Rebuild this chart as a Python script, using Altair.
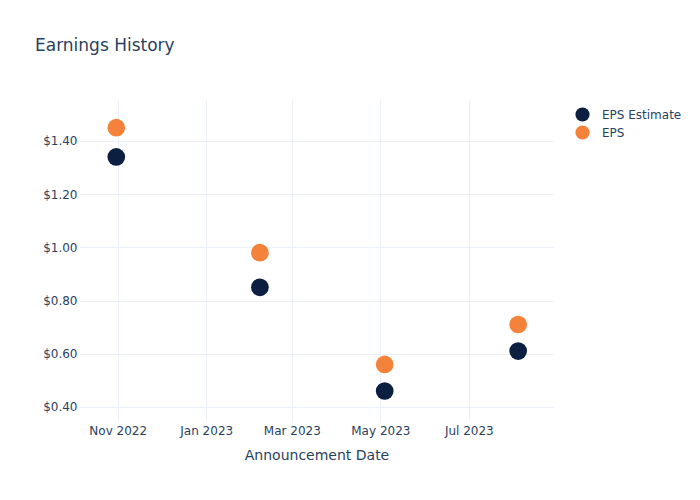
import altair as alt
import pandas as pd

dates = ["2022-10-31", "2023-02-07", "2023-05-04", "2023-08-04"]
eps_estimate = [1.34, 0.85, 0.46, 0.61]
eps_actual = [1.45, 0.98, 0.56, 0.71]
series_names = ["EPS Estimate", "EPS"]
series_colors = ["#0c1f40", "#f5823a"]
y_ticks = [0.4, 0.6, 0.8, 1.0, 1.2, 1.4]
x_ticks = [(2022, 11), (2023, 1), (2023, 3), (2023, 5), (2023, 7)]

rows = []
for d, e in zip(dates, eps_estimate):
    rows.append({"date": d, "value": e, "series": "EPS Estimate"})
for d, a in zip(dates, eps_actual):
    rows.append({"date": d, "value": a, "series": "EPS"})
df = pd.DataFrame(rows)

FONT = "DejaVu Sans"
TXT = "#2a3f5f"

chart = alt.Chart(df).mark_circle(size=314, opacity=1).encode(
    x=alt.X(
        "date:T",
        title="Announcement Date",
        scale=alt.Scale(
            type="utc",
            domain=[alt.DateTime(year=2022, month=10, date=6, utc=True),
                    alt.DateTime(year=2023, month=8, date=28, utc=True)],
            nice=False,
        ),
        axis=alt.Axis(
            values=[alt.DateTime(year=y, month=m, date=1, utc=True) for y, m in x_ticks],
            format="%b %Y",
            domain=False,
            ticks=False,
            labelPadding=5,
            titlePadding=12,
            gridColor="#ebf0f8",
            labelFontSize=12,
            titleFontSize=14,
            titleFontWeight="normal",
            labelColor=TXT,
            titleColor=TXT,
            labelFont=FONT,
            titleFont=FONT,
        ),
    ),
    y=alt.Y(
        "value:Q",
        title=None,
        scale=alt.Scale(domain=[0.351, 1.554], nice=False, zero=False),
        axis=alt.Axis(
            values=y_ticks,
            format="$.2f",
            domain=False,
            ticks=False,
            labelPadding=3,
            gridColor="#ebf0f8",
            labelFontSize=12,
            labelColor=TXT,
            labelFont=FONT,
        ),
    ),
    color=alt.Color(
        "series:N",
        scale=alt.Scale(domain=series_names, range=series_colors),
        legend=alt.Legend(
            title=None,
            orient="none",
            legendX=495,
            legendY=7,
            symbolType="circle",
            symbolSize=201,
            symbolStrokeWidth=0,
            symbolOpacity=1,
            labelFontSize=12,
            labelColor=TXT,
            labelFont=FONT,
            labelOffset=12,
            rowPadding=3,
            padding=0,
        ),
    ),
    order=alt.Order("series:N", sort="descending"),
).properties(
    width=473,
    height=320,
    title=alt.TitleParams(
        "Earnings History",
        anchor="start",
        frame="group",
        fontSize=17,
        fontWeight="normal",
        font=FONT,
        color=TXT,
        dx=-45,
        offset=0,
        baseline="alphabetic",
        dy=-32,
    ),
    autosize=alt.AutoSizeParams(type="none"),
    padding={"left": 80, "top": 100, "right": 147, "bottom": 80},
    background="white",
).configure_view(stroke=None)

chart.save("out.html", embed_options={"renderer": "svg", "actions": False})
